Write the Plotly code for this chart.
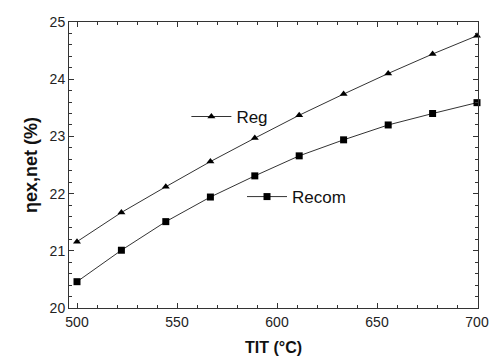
import plotly.graph_objects as go

# Turbine inlet temperature (°C)
tit = [500, 522.2, 544.4, 566.7, 588.9, 611.1, 633.3, 655.6, 677.8, 700]
# Net exergy efficiency (%)
eta_reg = [21.16, 21.67, 22.12, 22.56, 22.97, 23.37, 23.74, 24.10, 24.44, 24.76]
eta_recom = [20.46, 21.01, 21.51, 21.94, 22.31, 22.66, 22.94, 23.20, 23.40, 23.59]

FONT = "Liberation Sans, Arial, sans-serif"
INK = "#333333"

fig = go.Figure()
fig.add_trace(go.Scatter(
    x=tit, y=eta_reg, name="Reg", mode="lines+markers",
    line=dict(color=INK, width=1),
    marker=dict(symbol="triangle-up", size=7, color="black"),
    cliponaxis=False, legend="legend",
))
fig.add_trace(go.Scatter(
    x=tit, y=eta_recom, name="Recom", mode="lines+markers",
    line=dict(color=INK, width=1),
    marker=dict(symbol="square", size=7, color="black"),
    cliponaxis=False, legend="legend2",
))

axis_common = dict(
    showline=True, linecolor=INK, linewidth=1, mirror="ticks",
    ticks="inside", ticklen=5, tickcolor=INK,
    showgrid=False, zeroline=False, automargin=False,
    tickfont=dict(family=FONT, size=14, color="#222222"),
)

fig.update_xaxes(
    range=[496, 700.5], tick0=500, dtick=50,
    minor=dict(dtick=10, ticks="inside", ticklen=3, tickcolor=INK, showgrid=False),
    ticklabelstandoff=1,
    title=dict(text="<b>TIT (°C)</b>", font=dict(family=FONT, size=16, color="#111111"), standoff=14),
    **axis_common,
)
fig.update_yaxes(
    range=[20, 25], tick0=20, dtick=1,
    minor=dict(dtick=0.2, ticks="inside", ticklen=3, tickcolor=INK, showgrid=False),
    title=dict(text="<b>ηex,net (%)</b>", font=dict(family=FONT, size=18, color="#111111"), standoff=7),
    **axis_common,
)

legend_common = dict(
    bgcolor="rgba(0,0,0,0)", borderwidth=0,
    font=dict(family=FONT, size=17, color="#111111"),
    xanchor="left", yanchor="middle", itemwidth=40,
)
fig.update_layout(
    width=489, height=356,
    margin=dict(l=69, r=11, t=22, b=48),
    paper_bgcolor="white", plot_bgcolor="white",
    showlegend=True,
    legend=dict(x=0.287, y=0.668, **legend_common),
    legend2=dict(x=0.423, y=0.388, **legend_common),
)

fig.write_html("out.html")
